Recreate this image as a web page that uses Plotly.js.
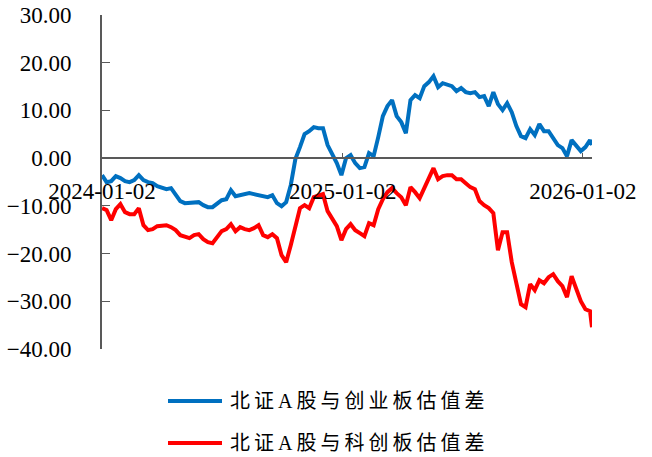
<!DOCTYPE html>
<html>
<head>
<meta charset="utf-8">
<script src="https://cdn.plot.ly/plotly-3.0.1.min.js"></script>
<style>
html,body{margin:0;padding:0;background:#fff;}
#chart{width:652px;height:457px;}
.annotation-text{letter-spacing:4px;}
</style>
</head>
<body>
<div id="chart"></div>
<script>
const dates = [
"2024-01-02","2024-01-09","2024-01-16","2024-01-23","2024-01-30","2024-02-06","2024-02-13","2024-02-20","2024-02-27","2024-03-05",
"2024-03-12","2024-03-19","2024-03-26","2024-04-02","2024-04-09","2024-04-16","2024-04-23","2024-04-30","2024-05-07","2024-05-14",
"2024-05-21","2024-05-28","2024-06-04","2024-06-11","2024-06-18","2024-06-25","2024-07-02","2024-07-09","2024-07-16","2024-07-23",
"2024-07-30","2024-08-06","2024-08-13","2024-08-20","2024-08-27","2024-09-03","2024-09-10","2024-09-17","2024-09-24","2024-10-01",
"2024-10-08","2024-10-15","2024-10-22","2024-10-29","2024-11-05","2024-11-12","2024-11-19","2024-11-26","2024-12-03","2024-12-10",
"2024-12-17","2024-12-24","2024-12-31","2025-01-07","2025-01-14","2025-01-21","2025-01-28","2025-02-04","2025-02-11","2025-02-18",
"2025-02-25","2025-03-04","2025-03-11","2025-03-18","2025-03-25","2025-04-01","2025-04-08","2025-04-15","2025-04-22","2025-04-29",
"2025-05-06","2025-05-13","2025-05-20","2025-05-27","2025-06-03","2025-06-10","2025-06-17","2025-06-24","2025-07-01","2025-07-08",
"2025-07-15","2025-07-22","2025-07-29","2025-08-05","2025-08-12","2025-08-19","2025-08-26","2025-09-02","2025-09-09","2025-09-16",
"2025-09-23","2025-09-30","2025-10-07","2025-10-14","2025-10-21","2025-10-28","2025-11-04","2025-11-11","2025-11-18","2025-11-25",
"2025-12-02","2025-12-09","2025-12-16","2025-12-23","2025-12-30","2026-01-06","2026-01-13","2026-01-16"
];
const seriesNames = ["北证A股与创业板估值差", "北证A股与科创板估值差"];
const vsChiNext = [
-3.56,-5.03,-4.82,-3.77,-4.19,-4.82,-5.03,-4.61,-3.56,-4.61,
-5.03,-5.24,-5.87,-6.29,-6.50,-6.29,-7.76,-9.01,-9.43,-9.43,
-9.43,-9.22,-9.85,-10.27,-10.27,-9.43,-8.81,-8.60,-6.71,-7.97,
-7.76,-7.55,-7.34,-7.55,-7.76,-7.97,-8.18,-7.76,-9.43,-10.06,
-9.22,-5.66,-0.21,2.31,5.03,5.66,6.50,6.29,6.29,2.73,
0.84,-1.05,-3.56,0.00,0.63,-1.05,-2.10,-1.89,1.05,0.42,
4.40,8.81,10.90,12.16,8.81,7.55,5.24,12.16,13.21,12.58,
15.09,15.93,17.19,14.88,15.72,15.51,15.09,14.05,14.68,13.84,
13.63,13.84,12.79,13.00,10.90,13.84,11.32,10.06,11.53,9.64,
6.71,4.61,4.19,6.08,4.82,7.13,5.66,5.66,4.19,2.73,
2.10,0.42,3.77,2.73,1.47,2.31,3.77,2.73
];
const vsStar = [
-10.48,-10.90,-13.00,-10.69,-9.64,-11.32,-11.74,-11.74,-10.48,-14.05,
-15.09,-14.88,-14.26,-14.05,-14.05,-14.47,-15.09,-16.14,-16.56,-16.77,
-16.14,-15.93,-16.98,-17.61,-17.82,-16.56,-15.30,-14.88,-13.84,-15.30,
-14.47,-14.88,-15.09,-14.68,-14.05,-16.14,-16.56,-15.93,-16.77,-20.34,
-21.80,-18.24,-14.05,-10.48,-9.85,-10.48,-8.18,-7.97,-7.55,-11.11,
-12.58,-14.26,-17.19,-14.88,-13.84,-15.09,-15.72,-16.35,-13.63,-14.05,
-10.69,-8.60,-7.13,-6.29,-7.34,-8.18,-9.85,-6.08,-7.13,-8.39,
-6.29,-4.19,-2.10,-4.40,-3.77,-3.56,-3.56,-4.40,-4.40,-5.24,
-6.08,-6.50,-9.01,-9.85,-10.48,-11.53,-19.29,-15.51,-15.51,-21.80,
-26.21,-30.61,-31.24,-26.42,-27.67,-25.58,-26.21,-24.95,-24.32,-25.79,
-26.83,-29.14,-24.74,-27.67,-29.98,-31.66,-32.08,-35.43
];
const xTickVals = ["2024-01-02","2025-01-02","2026-01-02"];
const xTickText = ["2024-01-02","2025-01-02","2026-01-02"];
const yTickVals = [-40,-30,-20,-10,0,10,20,30];
const colors = ["#0070C0", "#FF0000"];

const traces = [
  {x: dates, y: vsChiNext, type: "scatter", mode: "lines", name: seriesNames[0],
   line: {color: colors[0], width: 4}},
  {x: dates, y: vsStar, type: "scatter", mode: "lines", name: seriesNames[1],
   line: {color: colors[1], width: 4}}
];

const W = 652, H = 457, L = 102, R = 60, T = 15, B = 108;
const pw = W - L - R, ph = H - T - B;
const px = v => (v - L) / pw;
const py = v => (H - B - v) / ph;

const legendRows = [401, 443];
const shapes = legendRows.map((yy, i) => ({
  type: "line", xref: "paper", yref: "paper",
  x0: px(168), x1: px(222), y0: py(yy), y1: py(yy),
  line: {color: colors[i], width: 4}
}));
const annotations = legendRows.map((yy, i) => ({
  xref: "paper", yref: "paper", x: px(228), y: py(yy),
  xanchor: "left", yanchor: "middle", showarrow: false,
  text: seriesNames[i],
  font: {family: "Liberation Serif, Noto Sans CJK SC, serif", size: 20, color: "#000"}
}));

const axisColor = "#595959";
const layout = {
  width: W, height: H,
  margin: {l: L, r: R, t: T, b: B},
  paper_bgcolor: "#fff", plot_bgcolor: "#fff",
  showlegend: false,
  font: {family: "Liberation Serif, Times New Roman, serif", size: 23, color: "#000"},
  xaxis: {
    type: "date",
    range: ["2024-01-02", "2026-01-16"],
    tickmode: "array", tickvals: xTickVals, ticktext: xTickText,
    anchor: "free", position: 40 / 70,
    showline: true, linecolor: axisColor, linewidth: 2,
    ticks: "inside", ticklen: 4, tickwidth: 1, tickcolor: axisColor,
    showgrid: false, zeroline: false,
    ticklabelstandoff: 12,
    tickfont: {family: "Liberation Serif, Times New Roman, serif", size: 23, color: "#000"}
  },
  yaxis: {
    range: [-40, 30],
    tickmode: "array", tickvals: yTickVals, tickformat: ".2f",
    showline: true, linecolor: axisColor, linewidth: 2,
    ticks: "inside", ticklen: 8, tickwidth: 1, tickcolor: axisColor,
    showgrid: false, zeroline: false,
    ticklabelstandoff: 24,
    tickfont: {family: "Liberation Serif, Times New Roman, serif", size: 23, color: "#000"}
  },
  shapes: shapes,
  annotations: annotations
};

Plotly.newPlot("chart", traces, layout, {displayModeBar: false, staticPlot: true});
</script>
</body>
</html>
